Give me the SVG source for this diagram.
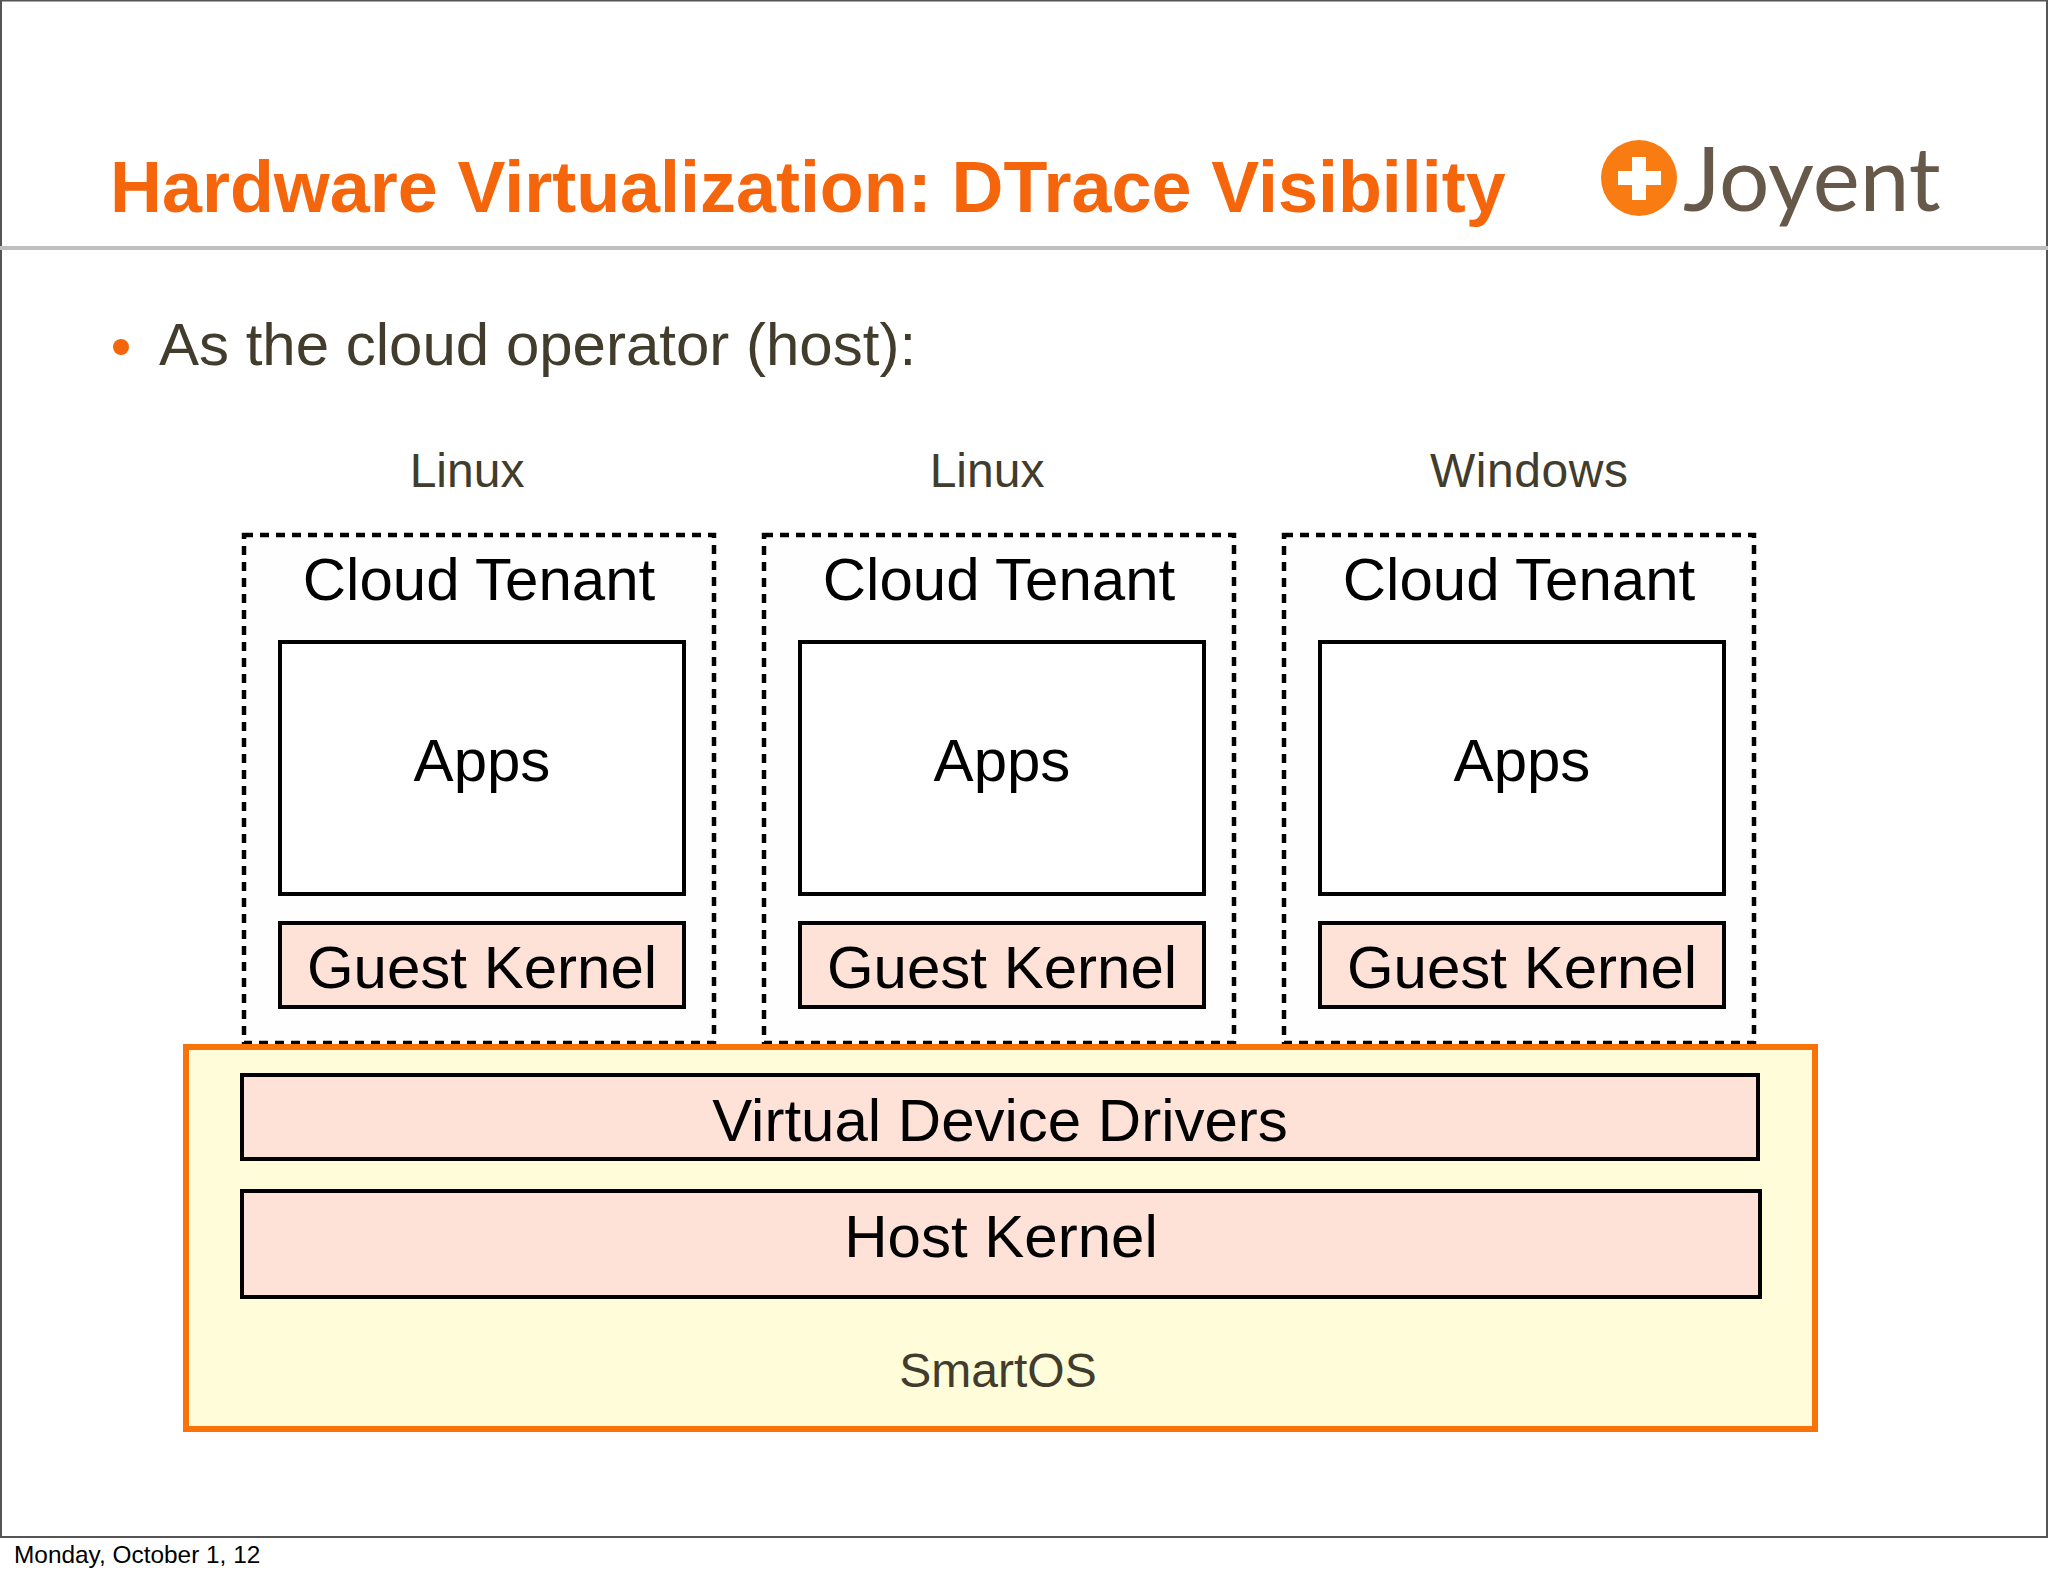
<svg xmlns="http://www.w3.org/2000/svg" width="2048" height="1576" viewBox="0 0 2048 1576">
<style>
text{font-family:"Liberation Sans",Arial,sans-serif}
.d{font-size:60px;fill:#000;text-anchor:middle}
.l{font-size:48px;fill:#423c2c;text-anchor:middle}
.dash{fill:#fefefe;stroke:#000;stroke-width:4.500;stroke-dasharray:9 7}
.box{stroke:#000;stroke-width:4}
.w{fill:#fff}
.p{fill:#fee1d7}
</style>
<rect width="2048" height="1576" fill="#fff"/>
<path d="M1 1537V0.500H2047V1537" fill="none" stroke="#555" stroke-width="2"/>
<line x1="0" y1="1537" x2="2048" y2="1537" stroke="#555" stroke-width="2"/>
<line x1="0" y1="248" x2="2048" y2="248" stroke="#bfbfbf" stroke-width="4"/>
<text id="title" x="110" y="212" font-size="71.900" font-weight="700" fill="#f4650c">Hardware Virtualization: DTrace Visibility</text>
<g id="logo">
<circle cx="1639" cy="178" r="38" fill="#f97c12"/>
<path d="M1632 157h14v14h15v14h-15v15h-14v-15h-14v-14h14z" fill="#fff"/>
<text x="1683" y="211" font-size="89" fill="#66594a" style="font-family:Lato,sans-serif" font-weight="400">Joyent</text>
</g>
<circle cx="121" cy="347" r="8" fill="#f4650c"/>
<text id="bullet" x="159" y="365" font-size="60" fill="#423c2c">As the cloud operator (host):</text>
<text class="l" x="467" y="487">Linux</text>
<text class="l" x="987" y="487">Linux</text>
<text class="l" x="1529" y="487" textLength="198">Windows</text>
<g id="tenant1">
<rect class="dash" x="244" y="535" width="470" height="508"/>
<text class="d" x="479" y="600">Cloud Tenant</text>
<rect class="box w" x="280" y="642" width="404" height="252"/>
<text class="d" x="482" y="780.500">Apps</text>
<rect class="box p" x="280" y="923" width="404" height="84"/>
<text class="d" x="482" y="988">Guest Kernel</text>
</g>
<g id="tenant2">
<rect class="dash" x="764" y="535" width="470" height="508"/>
<text class="d" x="999" y="600">Cloud Tenant</text>
<rect class="box w" x="800" y="642" width="404" height="252"/>
<text class="d" x="1002" y="780.500">Apps</text>
<rect class="box p" x="800" y="923" width="404" height="84"/>
<text class="d" x="1002" y="988">Guest Kernel</text>
</g>
<g id="tenant3">
<rect class="dash" x="1284" y="535" width="470" height="508"/>
<text class="d" x="1519" y="600">Cloud Tenant</text>
<rect class="box w" x="1320" y="642" width="404" height="252"/>
<text class="d" x="1522" y="780.500">Apps</text>
<rect class="box p" x="1320" y="923" width="404" height="84"/>
<text class="d" x="1522" y="988">Guest Kernel</text>
</g>
<g id="smartos">
<rect x="186" y="1047" width="1629" height="382" fill="#fffcd9" stroke="#fa7308" stroke-width="6"/>
<text class="l" x="998" y="1387">SmartOS</text>
</g>
<g id="vdd">
<rect class="box p" x="242" y="1075" width="1516" height="84"/>
<text class="d" x="1000" y="1140.500">Virtual Device Drivers</text>
</g>
<g id="hostkernel">
<rect class="box p" x="242" y="1191" width="1518" height="106"/>
<text class="d" x="1001" y="1256.500">Host Kernel</text>
</g>
<g id="connectors"></g>
<text id="footer" x="14" y="1563" font-size="24.400" fill="#000">Monday, October 1, 12</text>
</svg>
